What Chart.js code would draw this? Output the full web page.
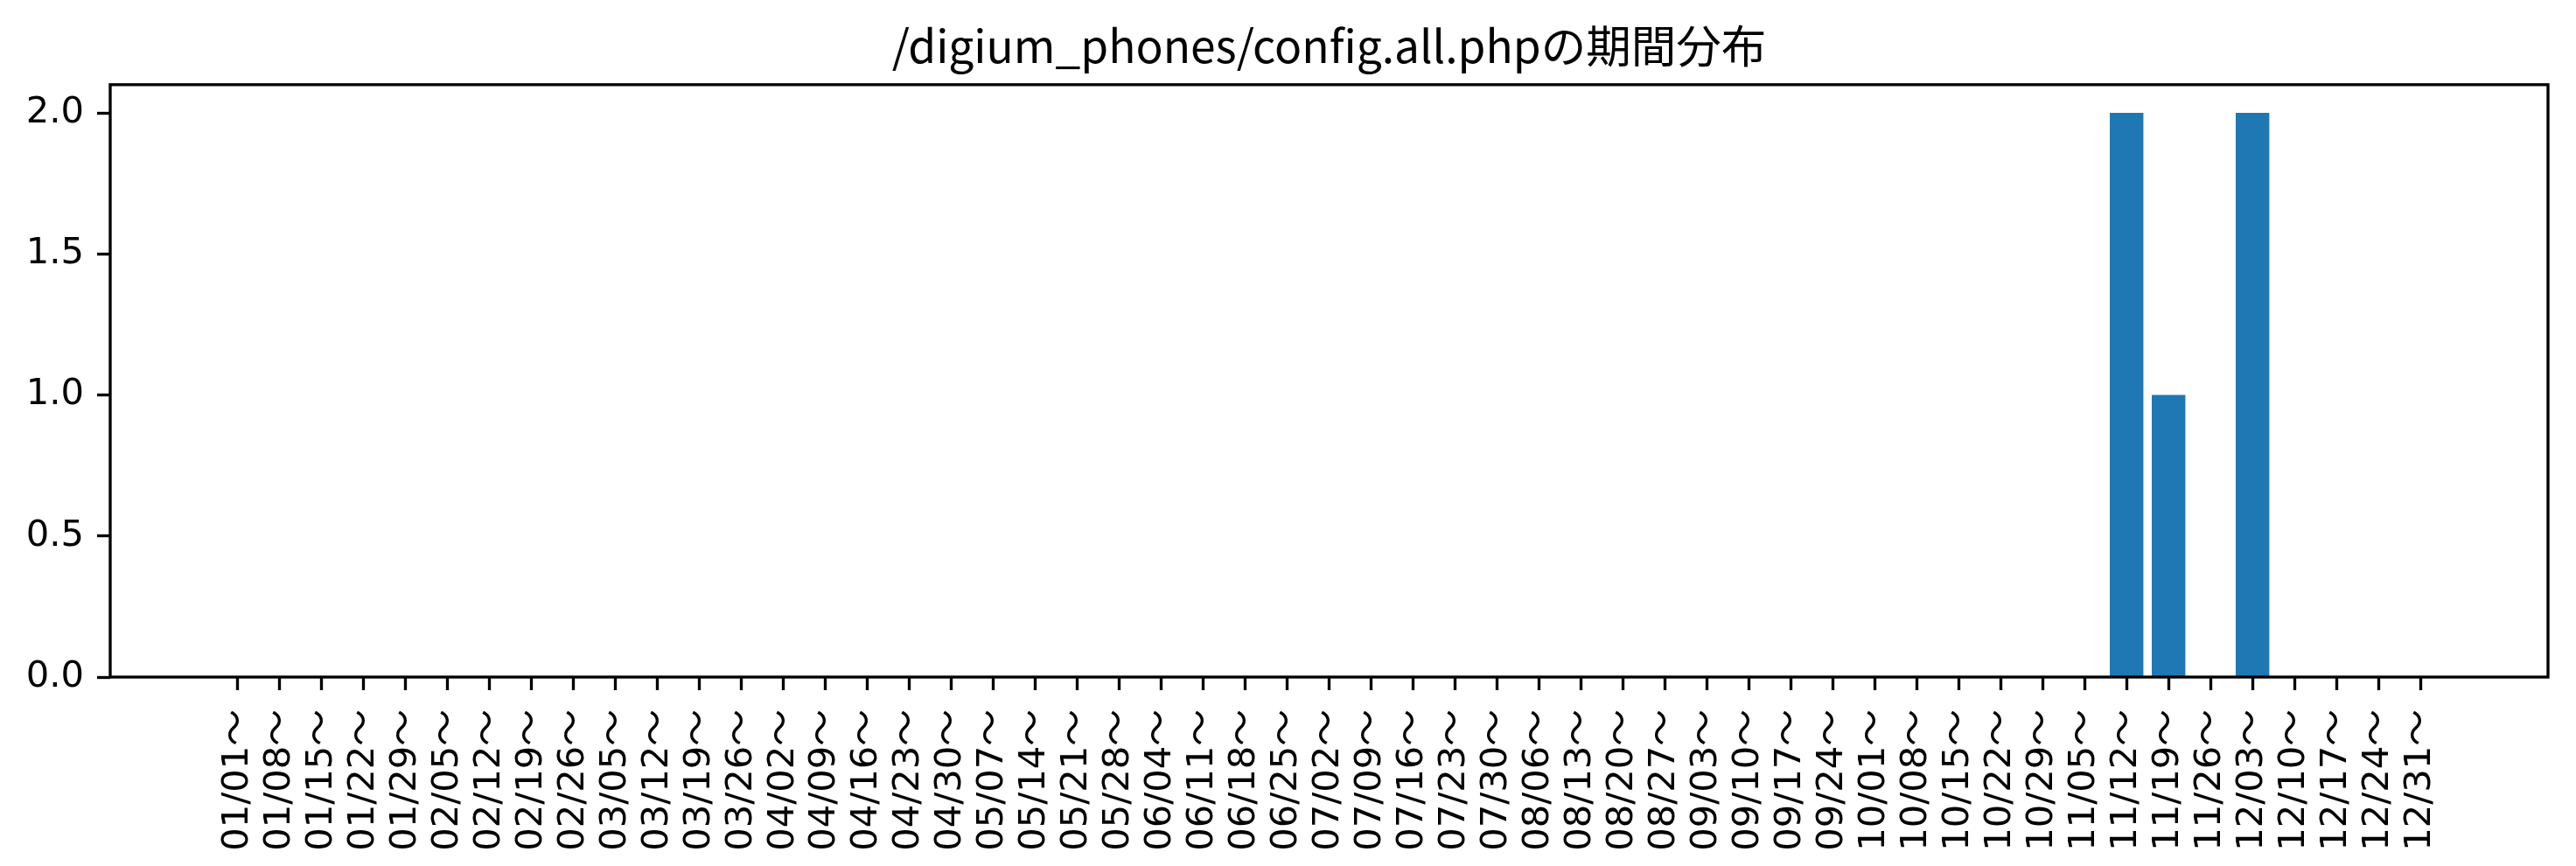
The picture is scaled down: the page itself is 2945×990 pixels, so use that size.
<!DOCTYPE html>
<html><head><meta charset="utf-8">
<script src="https://cdn.jsdelivr.net/npm/chart.js@4/dist/chart.umd.min.js"></script>
<style>html,body{margin:0;padding:0;background:#fff;overflow:hidden}#wrap{width:2945px;height:990px;position:relative}</style>
</head><body><div id="wrap"><canvas id="c" width="2945" height="990"></canvas></div>
<script>
const titleText = '/digium_phones/config.all.phpの期間分布';
const weekLabels = ['01/01～','01/08～','01/15～','01/22～','01/29～','02/05～','02/12～','02/19～','02/26～',
  '03/05～','03/12～','03/19～','03/26～','04/02～','04/09～','04/16～','04/23～','04/30～',
  '05/07～','05/14～','05/21～','05/28～','06/04～','06/11～','06/18～','06/25～',
  '07/02～','07/09～','07/16～','07/23～','07/30～','08/06～','08/13～','08/20～','08/27～',
  '09/03～','09/10～','09/17～','09/24～','10/01～','10/08～','10/15～','10/22～','10/29～',
  '11/05～','11/12～','11/19～','11/26～','12/03～','12/10～','12/17～','12/24～','12/31～'];
const counts = [0,0,0,0,0,0,0,0,0,
  0,0,0,0,0,0,0,0,0,
  0,0,0,0,0,0,0,0,
  0,0,0,0,0,0,0,0,0,
  0,0,0,0,0,0,0,0,0,
  0,2,1,0,2,0,0,0,0];
const yTickValues = [0, 0.5, 1.0, 1.5, 2.0];
const yTickLabels = ['0.0', '0.5', '1.0', '1.5', '2.0'];

const n = weekLabels.length;
const barW = 0.8;
const span = (n - 1) + barW;
const xMin = -barW / 2 - 0.05 * span;
const xMax = (n - 1) + barW / 2 + 0.05 * span;
const yMax = Math.max(...counts) * 1.05;

const LW = 3.33;
const tickFont = { family: "'DejaVu Sans', 'Noto Sans CJK JP', sans-serif", size: 41.67 };

const boxPlugin = {
  id: 'box',
  afterDatasetsDraw(chart) {
    const a = chart.chartArea, ctx = chart.ctx;
    ctx.save();
    ctx.strokeStyle = '#000';
    ctx.lineWidth = LW;
    ctx.strokeRect(a.left, a.top, a.right - a.left, a.bottom - a.top);
    ctx.restore();
  }
};

new Chart(document.getElementById('c'), {
  type: 'bar',
  data: {
    datasets: [{
      data: counts.map((v, i) => ({ x: i, y: v })),
      backgroundColor: '#1f77b4',
      borderWidth: 0,
      barPercentage: barW,
      categoryPercentage: 1.0
    }]
  },
  options: {
    responsive: false,
    devicePixelRatio: 1,
    animation: false,
    layout: { padding: { top: 0, left: 0, right: 32, bottom: 0 } },
    plugins: {
      legend: { display: false },
      tooltip: { enabled: false },
      title: {
        display: true,
        text: titleText,
        fullSize: false,
        color: '#000',
        font: { family: "'Noto Sans CJK JP', sans-serif", size: 51.5, weight: 'normal', lineHeight: 1.2 },
        padding: { top: 22, bottom: 13 }
      }
    },
    scales: {
      x: {
        type: 'linear',
        offset: false,
        bounds: 'data',
        min: xMin,
        max: xMax,
        grid: { display: true, drawOnChartArea: false, offset: false, tickLength: 15, tickWidth: LW, tickColor: '#000' },
        border: { display: false },
        afterBuildTicks: (s) => { s.ticks = weekLabels.map((_, i) => ({ value: i })); },
        afterFit: (s) => { s.height = 990 - 774; },
        ticks: {
          autoSkip: false,
          minRotation: 90,
          maxRotation: 90,
          padding: 22,
          color: '#000',
          font: tickFont,
          callback: (v) => weekLabels[v]
        }
      },
      y: {
        type: 'linear',
        min: 0,
        max: yMax,
        bounds: 'data',
        grid: { display: true, drawOnChartArea: false, tickLength: 15, tickWidth: LW, tickColor: '#000' },
        border: { display: false },
        afterBuildTicks: (s) => { s.ticks = yTickValues.map(v => ({ value: v })); },
        afterFit: (s) => { s.width = 126; },
        ticks: {
          padding: 15,
          color: '#000',
          font: tickFont,
          callback: (v) => yTickLabels[yTickValues.indexOf(v)]
        }
      }
    }
  },
  plugins: [boxPlugin]
});
</script>
</body></html>
